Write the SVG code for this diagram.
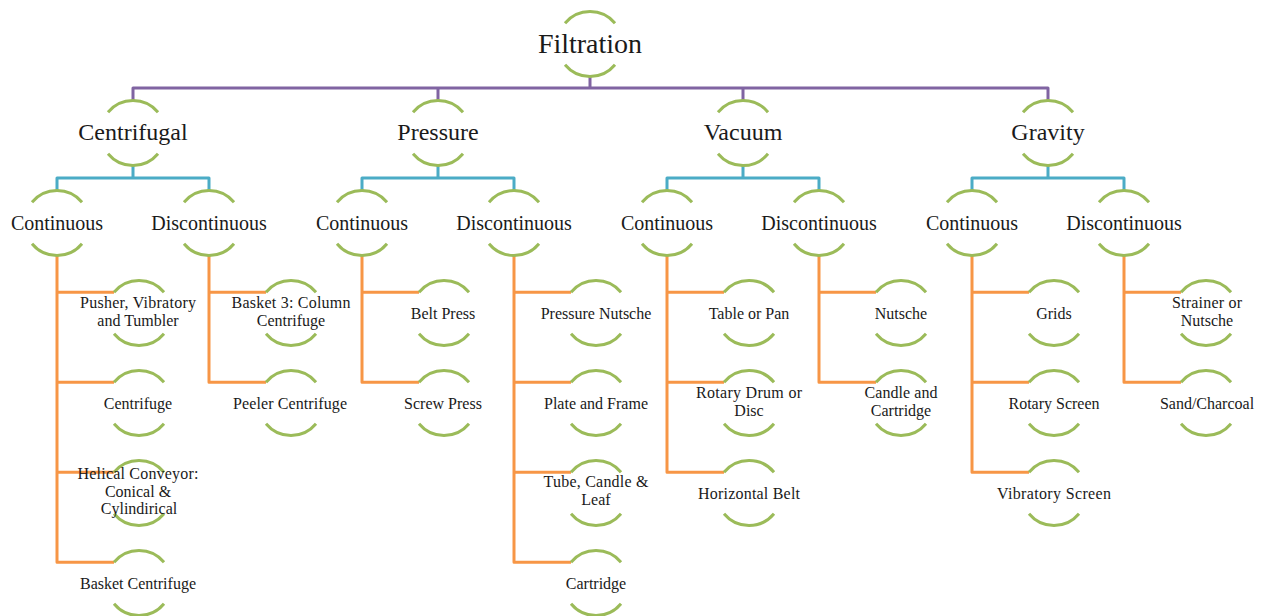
<svg xmlns="http://www.w3.org/2000/svg" xmlns:xlink="http://www.w3.org/1999/xlink" width="1265" height="616" viewBox="0 0 1265 616">
<style>
.arc{fill:none;stroke:#9BBB59;stroke-width:3}
.p{fill:none;stroke:#8064A2;stroke-width:3;stroke-linejoin:round}
.b{fill:none;stroke:#4BACC6;stroke-width:3;stroke-linejoin:round}
.o{fill:none;stroke:#F79646;stroke-width:3;stroke-linejoin:round}
text{font-family:"Liberation Serif","Times New Roman",serif;fill:#1a1a1a;text-anchor:middle}
.t0{font-size:28px}
.t1{font-size:24px}
.t2{font-size:20px}
.t3{font-size:16px}
</style>
<defs>
<path id="arcs" class="arc" d="M-25,-20.8 A32.5,32.5 0 0 1 25,-20.8 M-25,20.8 A32.5,32.5 0 0 0 25,20.8"/>
</defs>
<rect width="1265" height="616" fill="#ffffff"/>
<g id="connectors">
<path class="p" d="M590,76.5 V88 M133,100.5 V88 H1048 V100.5 M438,88 V100.5 M743,88 V100.5"/>
<path class="b" d="M133,165.5 V178 M57,190.5 V178 H209 V190.5"/>
<path class="b" d="M438,165.5 V178 M362,190.5 V178 H514 V190.5"/>
<path class="b" d="M743,165.5 V178 M667,190.5 V178 H819 V190.5"/>
<path class="b" d="M1048,165.5 V178 M972,190.5 V178 H1124 V190.5"/>
<path class="o" d="M57,255.5 V562.2 H114 M57,292.2 H114 M57,382.2 H114 M57,472.2 H114"/>
<path class="o" d="M209,255.5 V382.2 H266 M209,292.2 H266"/>
<path class="o" d="M362,255.5 V382.2 H419 M362,292.2 H419"/>
<path class="o" d="M514,255.5 V562.2 H571 M514,292.2 H571 M514,382.2 H571 M514,472.2 H571"/>
<path class="o" d="M667,255.5 V472.2 H724 M667,292.2 H724 M667,382.2 H724"/>
<path class="o" d="M819,255.5 V382.2 H876 M819,292.2 H876"/>
<path class="o" d="M972,255.5 V472.2 H1029 M972,292.2 H1029 M972,382.2 H1029"/>
<path class="o" d="M1124,255.5 V382.2 H1181 M1124,292.2 H1181"/>
</g>
<g id="n-filtration"><use xlink:href="#arcs" href="#arcs" x="590" y="44"/><text class="t0" x="590" y="53">Filtration</text></g>
<g id="n-centrifugal"><use href="#arcs" xlink:href="#arcs" x="133" y="133"/><text class="t1" x="133" y="140">Centrifugal</text></g>
<g id="n-pressure"><use href="#arcs" xlink:href="#arcs" x="438" y="133"/><text class="t1" x="438" y="140">Pressure</text></g>
<g id="n-vacuum"><use href="#arcs" xlink:href="#arcs" x="743" y="133"/><text class="t1" x="743" y="140">Vacuum</text></g>
<g id="n-gravity"><use href="#arcs" xlink:href="#arcs" x="1048" y="133"/><text class="t1" x="1048" y="140">Gravity</text></g>
<g id="n-cen-cont"><use href="#arcs" xlink:href="#arcs" x="57" y="223"/><text class="t2" x="57" y="229.5">Continuous</text></g>
<g id="n-cen-disc"><use href="#arcs" xlink:href="#arcs" x="209" y="223"/><text class="t2" x="209" y="229.5">Discontinuous</text></g>
<g id="n-pre-cont"><use href="#arcs" xlink:href="#arcs" x="362" y="223"/><text class="t2" x="362" y="229.5">Continuous</text></g>
<g id="n-pre-disc"><use href="#arcs" xlink:href="#arcs" x="514" y="223"/><text class="t2" x="514" y="229.5">Discontinuous</text></g>
<g id="n-vac-cont"><use href="#arcs" xlink:href="#arcs" x="667" y="223"/><text class="t2" x="667" y="229.5">Continuous</text></g>
<g id="n-vac-disc"><use href="#arcs" xlink:href="#arcs" x="819" y="223"/><text class="t2" x="819" y="229.5">Discontinuous</text></g>
<g id="n-gra-cont"><use href="#arcs" xlink:href="#arcs" x="972" y="223"/><text class="t2" x="972" y="229.5">Continuous</text></g>
<g id="n-gra-disc"><use href="#arcs" xlink:href="#arcs" x="1124" y="223"/><text class="t2" x="1124" y="229.5">Discontinuous</text></g>
<g id="n-pusher"><use href="#arcs" xlink:href="#arcs" x="139" y="313"/><text class="t3" x="138" y="308" textLength="116" lengthAdjust="spacing">Pusher, Vibratory</text><text class="t3" x="138" y="326">and Tumbler</text></g>
<g id="n-centrifuge"><use href="#arcs" xlink:href="#arcs" x="139" y="403"/><text class="t3" x="138" y="408.5">Centrifuge</text></g>
<g id="n-helical"><use href="#arcs" xlink:href="#arcs" x="139" y="493"/><text class="t3" x="138" y="479" textLength="121" lengthAdjust="spacing">Helical Conveyor:</text><text class="t3" x="138" y="497">Conical &amp;</text><text class="t3" x="139" y="514">Cylindirical</text></g>
<g id="n-basket"><use href="#arcs" xlink:href="#arcs" x="139" y="583"/><text class="t3" x="138" y="588.5">Basket Centrifuge</text></g>
<g id="n-basket3"><use href="#arcs" xlink:href="#arcs" x="291" y="313"/><text class="t3" x="291" y="308" textLength="119" lengthAdjust="spacing">Basket 3: Column</text><text class="t3" x="291" y="326">Centrifuge</text></g>
<g id="n-peeler"><use href="#arcs" xlink:href="#arcs" x="291" y="403"/><text class="t3" x="290" y="408.5" textLength="114" lengthAdjust="spacing">Peeler Centrifuge</text></g>
<g id="n-belt"><use href="#arcs" xlink:href="#arcs" x="444" y="313"/><text class="t3" x="443" y="318.5">Belt Press</text></g>
<g id="n-screw"><use href="#arcs" xlink:href="#arcs" x="444" y="403"/><text class="t3" x="443" y="408.5">Screw Press</text></g>
<g id="n-pnutsche"><use href="#arcs" xlink:href="#arcs" x="596" y="313"/><text class="t3" x="596" y="318.5">Pressure Nutsche</text></g>
<g id="n-plate"><use href="#arcs" xlink:href="#arcs" x="596" y="403"/><text class="t3" x="596" y="408.5">Plate and Frame</text></g>
<g id="n-tube"><use href="#arcs" xlink:href="#arcs" x="596" y="493"/><text class="t3" x="596" y="487" textLength="105" lengthAdjust="spacing">Tube, Candle &amp;</text><text class="t3" x="596" y="505">Leaf</text></g>
<g id="n-cartridge"><use href="#arcs" xlink:href="#arcs" x="596" y="583"/><text class="t3" x="596" y="588.5">Cartridge</text></g>
<g id="n-table"><use href="#arcs" xlink:href="#arcs" x="749" y="313"/><text class="t3" x="749" y="318.5">Table or Pan</text></g>
<g id="n-rotary"><use href="#arcs" xlink:href="#arcs" x="749" y="403"/><text class="t3" x="749" y="398" textLength="106" lengthAdjust="spacing">Rotary Drum or</text><text class="t3" x="749" y="416">Disc</text></g>
<g id="n-horizontal"><use href="#arcs" xlink:href="#arcs" x="749" y="493"/><text class="t3" x="749" y="498.5" textLength="102" lengthAdjust="spacing">Horizontal Belt</text></g>
<g id="n-nutsche"><use href="#arcs" xlink:href="#arcs" x="901" y="313"/><text class="t3" x="901" y="318.5">Nutsche</text></g>
<g id="n-candle"><use href="#arcs" xlink:href="#arcs" x="901" y="403"/><text class="t3" x="901" y="398" textLength="73" lengthAdjust="spacing">Candle and</text><text class="t3" x="901" y="416">Cartridge</text></g>
<g id="n-grids"><use href="#arcs" xlink:href="#arcs" x="1054" y="313"/><text class="t3" x="1054" y="318.5">Grids</text></g>
<g id="n-rscreen"><use href="#arcs" xlink:href="#arcs" x="1054" y="403"/><text class="t3" x="1054" y="408.5">Rotary Screen</text></g>
<g id="n-vscreen"><use href="#arcs" xlink:href="#arcs" x="1054" y="493"/><text class="t3" x="1054" y="498.5" textLength="114" lengthAdjust="spacing">Vibratory Screen</text></g>
<g id="n-strainer"><use href="#arcs" xlink:href="#arcs" x="1206" y="313"/><text class="t3" x="1207" y="308" textLength="70" lengthAdjust="spacing">Strainer or</text><text class="t3" x="1207" y="326">Nutsche</text></g>
<g id="n-sand"><use href="#arcs" xlink:href="#arcs" x="1206" y="403"/><text class="t3" x="1207" y="408.5">Sand/Charcoal</text></g>
</svg>
